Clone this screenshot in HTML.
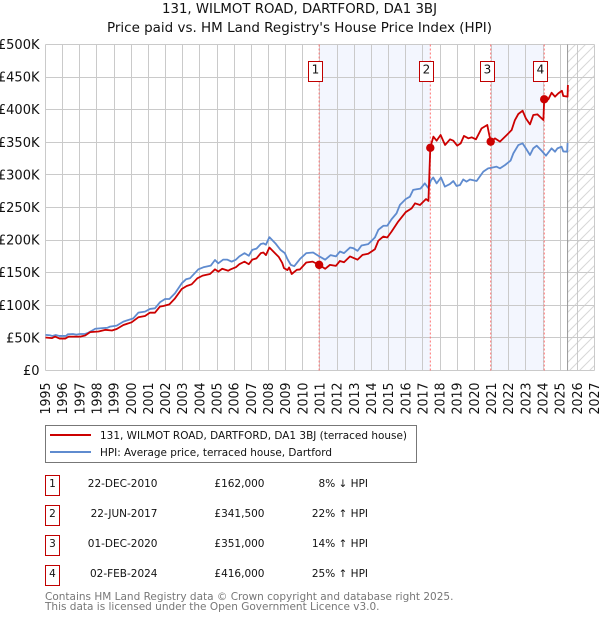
<!DOCTYPE html>
<html>
<head>
<meta charset="utf-8">
<title>131, WILMOT ROAD, DARTFORD, DA1 3BJ</title>
<style>
html,body{margin:0;padding:0;background:#fff;}
svg{display:block;font-family:"DejaVu Sans","Liberation Sans",sans-serif;}
</style>
</head>
<body>
<svg id="chart" xmlns="http://www.w3.org/2000/svg" width="600" height="620" viewBox="0 0 600 620">
<defs>
<pattern id="hatch" patternUnits="userSpaceOnUse" width="10" height="10">
<path d="M-1 11L11 -1M-1 1L1 -1M9 11L11 9" stroke="#d8d8d8" stroke-width="1" fill="none"/>
</pattern>
</defs>
<text x="299.5" y="13" text-anchor="middle" font-size="13" textLength="275" lengthAdjust="spacingAndGlyphs" fill="#111">131, WILMOT ROAD, DARTFORD, DA1 3BJ</text>
<text x="299.5" y="32" text-anchor="middle" font-size="13" textLength="385" lengthAdjust="spacingAndGlyphs" fill="#111">Price paid vs. HM Land Registry's House Price Index (HPI)</text>
<g id="plot"></g>

<g>
<rect x="45.5" y="425.5" width="371" height="37" fill="#fff" stroke="#777" stroke-width="1"/>
<line x1="50" y1="435" x2="91" y2="435" stroke="#cc0000" stroke-width="2"/>
<text x="100" y="439" font-size="11" textLength="307" lengthAdjust="spacingAndGlyphs" fill="#111">131, WILMOT ROAD, DARTFORD, DA1 3BJ (terraced house)</text>
<line x1="50" y1="452" x2="91" y2="452" stroke="#5f8bcf" stroke-width="2"/>
<text x="100" y="456" font-size="11" textLength="232" lengthAdjust="spacingAndGlyphs" fill="#111">HPI: Average price, terraced house, Dartford</text>
</g>

<g font-size="10.5" fill="#111">
<g>
<rect x="45.5" y="475.5" width="14" height="20" fill="#fff" stroke="#c00000"/>
<text x="52.5" y="487" text-anchor="middle">1</text>
<text x="157.5" y="487" text-anchor="end">22-DEC-2010</text>
<text x="264.5" y="487" text-anchor="end">£162,000</text>
<text x="368" y="487" text-anchor="end">8% ↓ HPI</text>
</g>
<g>
<rect x="45.5" y="505.5" width="14" height="20" fill="#fff" stroke="#c00000"/>
<text x="52.5" y="517" text-anchor="middle">2</text>
<text x="157.5" y="517" text-anchor="end">22-JUN-2017</text>
<text x="264.5" y="517" text-anchor="end">£341,500</text>
<text x="368" y="517" text-anchor="end">22% ↑ HPI</text>
</g>
<g>
<rect x="45.5" y="535.5" width="14" height="20" fill="#fff" stroke="#c00000"/>
<text x="52.5" y="547" text-anchor="middle">3</text>
<text x="157.5" y="547" text-anchor="end">01-DEC-2020</text>
<text x="264.5" y="547" text-anchor="end">£351,000</text>
<text x="368" y="547" text-anchor="end">14% ↑ HPI</text>
</g>
<g>
<rect x="45.5" y="565.5" width="14" height="20" fill="#fff" stroke="#c00000"/>
<text x="52.5" y="577" text-anchor="middle">4</text>
<text x="157.5" y="577" text-anchor="end">02-FEB-2024</text>
<text x="264.5" y="577" text-anchor="end">£416,000</text>
<text x="368" y="577" text-anchor="end">25% ↑ HPI</text>
</g>
</g>

<text x="45" y="600" font-size="10.5" fill="#777">Contains HM Land Registry data © Crown copyright and database right 2025.</text>
<text x="45" y="610" font-size="10.5" fill="#777">This data is licensed under the Open Government Licence v3.0.</text>
</svg>

<script>
var yearTicks = [1995,1996,1997,1998,1999,2000,2001,2002,2003,2004,2005,2006,2007,2008,2009,2010,2011,2012,2013,2014,2015,2016,2017,2018,2019,2020,2021,2022,2023,2024,2025,2026,2027];
var valueTicks = [0,50,100,150,200,250,300,350,400,450,500];
var valueTickLabels = ['£0','£50K','£100K','£150K','£200K','£250K','£300K','£350K','£400K','£450K','£500K'];

var hpiDates = [
1995,1995.25,1995.4,1995.6,1995.8,1996,1996.2,1996.3,1996.6,1996.8,
1997,1997.3,1997.5,1997.7,1997.9,1998.3,1998.6,1998.76,1999.15,1999.54,
2000.12,2000.41,2000.8,2001.09,2001.38,2001.67,2001.97,2002.22,2002.55,2002.94,
2003.19,2003.42,2003.91,2004.2,2004.63,2004.88,2005.07,2005.35,2005.6,2005.85,
2006.1,2006.3,2006.6,2006.85,2007.05,2007.3,2007.55,2007.7,2007.85,2008.05,
2008.4,2008.7,2008.95,2009.1,2009.3,2009.5,2009.83,2010.2,2010.6,2010.9,
2011.3,2011.62,2011.93,2012.16,2012.4,2012.75,2012.94,2013.19,2013.42,2013.81,
2014.2,2014.4,2014.69,2014.92,2015.17,2015.46,2015.66,2016,2016.24,2016.43,
2016.63,2016.86,2017.11,2017.31,2017.47,2017.6,2017.8,2018.05,2018.28,2018.57,
2018.77,2018.96,2019.16,2019.35,2019.54,2019.74,2020.13,2020.52,2020.8,2021,
2021.29,2021.49,2021.78,2022.11,2022.27,2022.56,2022.81,2023,2023.24,2023.43,
2023.63,2023.92,2024.17,2024.5,2024.7,2024.84,2025.08,2025.18,2025.41,2025.43];
var hpiValues = [
54.7,54,53,54.5,53,53,53,55.5,56,55,
56,56,58,61,64,65,65.5,67.3,68.8,75,
80,88.7,90.3,94.4,95.4,104.6,109.7,109.7,118.4,133.7,
139.9,141.4,155.2,158.3,160.8,169.5,164.4,170,170,167,
170,175,180,176,185,187,194,195,193,204.5,
195,185,180,171,162,160,171,180,181,176,
170,177,175,182.5,180,188.6,187.6,183.5,191.7,193.8,
204,215.7,222,222,232,241,254,263,266.6,277,
278,279,287,280,292,296,287,296,282,286,
290.6,283,284.5,293,289.6,293,290.6,305,310,311,
312.6,310,315,322,333,345.8,348.4,340.7,330.5,340.7,
344.8,337,329.5,340.7,335.6,340.7,343.3,336,335.6,349];

var priceDates = [
1995,1995.37,1995.56,1995.82,1996.15,1996.35,1997.02,1997.31,1997.6,1998.09,
1998.48,1998.87,1999.15,1999.54,2000.02,2000.41,2000.8,2001.09,2001.38,2001.67,
2001.87,2002.22,2002.55,2002.94,2003.23,2003.52,2003.85,2004.16,2004.59,2004.88,
2005.07,2005.3,2005.65,2005.78,2006.1,2006.3,2006.6,2006.85,2007.05,2007.3,
2007.55,2007.7,2007.85,2008.05,2008.6,2008.8,2008.9,2009.1,2009.2,2009.35,
2009.65,2009.83,2010.2,2010.57,2010.95,2011.3,2011.58,2011.93,2012.16,2012.4,
2012.75,2013.19,2013.48,2013.81,2014.2,2014.4,2014.69,2014.92,2015.17,2015.56,
2016,2016.34,2016.54,2016.83,2017.18,2017.32,2017.43,2017.61,2017.8,2018.03,
2018.29,2018.58,2018.77,2019,2019.2,2019.39,2019.65,2019.84,2020.09,2020.42,
2020.75,2020.83,2020.95,2021.2,2021.49,2021.88,2022.17,2022.36,2022.56,2022.81,
2023,2023.24,2023.43,2023.67,2024.02,2024.07,2024.31,2024.5,2024.7,2024.89,
2025.1,2025.18,2025.43,2025.45];
var priceValues = [
50.6,49.6,52,49,49,52,52,53.7,58.8,59.8,
62.4,61.3,63.7,69.8,73.9,81.6,83.6,88.7,88.7,98,
99,101.5,110.7,125,129.6,132.2,141.4,145.5,148,155.2,
151.6,156,153,155,158.5,163,167,163,170,172,
180,181,177,188.6,174,165,157,154,158,148,
154.4,155,165.6,167,162,156,162,160.5,168,166,
175,170,177.4,179,186,199,205.5,204,213,228.5,
243,248.7,256.4,253.9,263,260,342,358.7,352.5,361.2,
345.9,354.6,352.5,344.9,348.4,359.7,356.1,357.6,354.6,371.4,
376.6,366,351,356,351,361,368.8,384,393.4,398.5,
386.7,377.5,391.8,392.9,384.2,416,415.9,426,420,425,
429,421,420,437.9];

var saleDates = [2010.95,2017.43,2020.95,2024.07];
var salePrices = [162,341.5,351,416];
var saleLabels = ['1','2','3','4'];
var dataEnd = [2025.43];

function xScale(year){ return 45.5 + (year - 1995) * 17.156; }
function yScale(value){ return 370.5 - value * 0.652; }

var NS = 'http://www.w3.org/2000/svg';
var plot = document.getElementById('plot');
function make(tag, attrs, parent){
  var el = document.createElementNS(NS, tag);
  for (var k in attrs) el.setAttribute(k, attrs[k]);
  (parent || plot).appendChild(el);
  return el;
}
function pathFrom(xs, ys){
  var d = '';
  for (var i = 0; i < xs.length; i++) d += (i ? 'L' : 'M') + xScale(xs[i]).toFixed(2) + ' ' + yScale(ys[i]).toFixed(2);
  return d;
}

var yTop = yScale(500), yBottom = yScale(0), xLeft = xScale(1995), xRight = xScale(2027);

/* shaded ownership bands between alternating sales */
for (var b = 0; b + 1 < saleDates.length; b += 2) {
  var band = make('rect', {x: xScale(saleDates[b]), y: yTop, width: xScale(saleDates[b + 1]) - xScale(saleDates[b]), height: yBottom - yTop, fill: '#f3f6fe'});
  
  
}

/* forecast hatch */
var hatch = make('rect', {x: xScale(dataEnd[0]), y: yTop, width: xRight - xScale(dataEnd[0]), height: yBottom - yTop, fill: 'url(#hatch)'});



/* grid */
yearTicks.forEach(function(yr){
  var gx = Math.round(xScale(yr) - 0.5) + 0.5;
  var g = make('line', {x1: gx, y1: yTop, x2: gx, y2: yBottom, stroke: '#cacaca', 'stroke-width': 1});
  
  
  var t = make('text', {transform: 'translate(' + (xScale(yr) + 4.5) + ',414.5) rotate(-90)', 'font-size': 13, textLength: 32, lengthAdjust: 'spacingAndGlyphs', fill: '#111'});
  t.textContent = String(yr);
  
  
});
valueTicks.forEach(function(v, i){
  var gy = Math.round(yScale(v) - 0.5) + 0.5;
  var g = make('line', {x1: xLeft, y1: gy, x2: xRight, y2: gy, stroke: '#cacaca', 'stroke-width': 1});
  
  
  var t = make('text', {x: 39.5, y: yScale(v) + 4.5, 'text-anchor': 'end', 'font-size': 13, fill: '#111'});
  t.textContent = valueTickLabels[i];
  
  
});

/* data end marker */
var endLine = make('line', {x1: xScale(dataEnd[0]), y1: yTop, x2: xScale(dataEnd[0]), y2: yBottom, stroke: '#999', 'stroke-width': 1});



/* sale guides */
saleDates.forEach(function(d){
  var l = make('line', {x1: xScale(d), y1: yTop, x2: xScale(d), y2: yBottom, stroke: '#ff7070', 'stroke-width': 1, 'stroke-dasharray': '2 2'});
  
  
});

/* series */
var hpiLine = make('path', {d: pathFrom(hpiDates, hpiValues), fill: 'none', stroke: '#5f8bcf', 'stroke-width': 1.8, 'stroke-linejoin': 'round'});


var priceLine = make('path', {d: pathFrom(priceDates, priceValues), fill: 'none', stroke: '#cc0000', 'stroke-width': 1.8, 'stroke-linejoin': 'round'});



/* sale points & badges */
saleDates.forEach(function(d, i){
  var dot = make('circle', {cx: xScale(d), cy: yScale(salePrices[i]), r: 4.2, fill: '#cc0000'});
  
  
  var bx = Math.round(xScale(d) - 11) + 0.5;
  var box = make('rect', {x: bx, y: 61.5, width: 14, height: 20, fill: '#fff', stroke: '#c00000', 'stroke-width': 1});
  
  
  var num = make('text', {x: bx + 7, y: 73.5, 'text-anchor': 'middle', 'font-size': 12, fill: '#111'});
  num.textContent = saleLabels[i];
  
  
});
</script>
</body>
</html>
